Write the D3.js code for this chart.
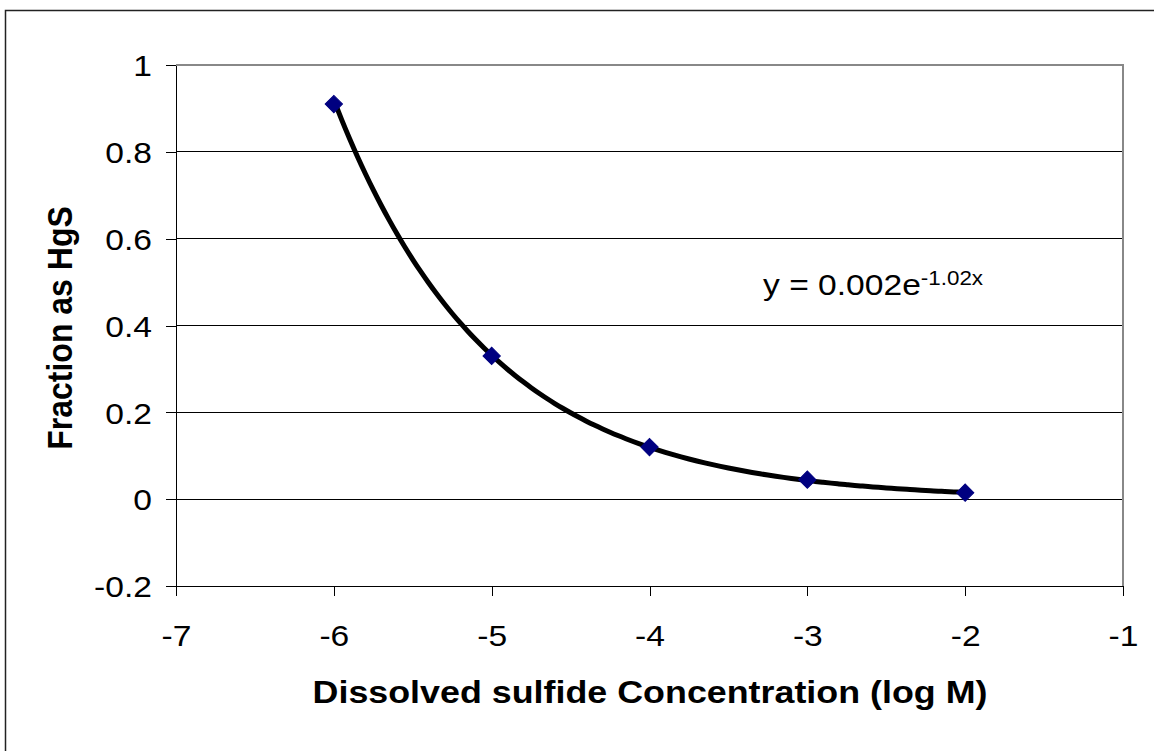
<!DOCTYPE html>
<html lang="en">
<head>
    <meta charset="UTF-8">
    <title>Fraction as HgS</title>
    <style>
        body { margin: 0; background: #fff; }
        text { font-family: "Liberation Sans", Arial, sans-serif; fill: #000; }
        .axis path, .axis line { stroke: #000; shape-rendering: crispEdges; }
    </style>
    <script src="https://d3js.org/d3.v7.min.js"></script>
</head>
<body>
    <svg width="1154" height="751"></svg>

    <script>
        // data
        const logConc = [-6, -5, -4, -3, -2];
        const fractionHgS = [0.91, 0.33, 0.12, 0.045, 0.015];
        const xTicks = [-7, -6, -5, -4, -3, -2, -1];
        const yTicks = [-0.2, 0, 0.2, 0.4, 0.6, 0.8, 1];
        const eqMain = "y = 0.002e";
        const eqSup = "-1.02x";
        const xTitle = "Dissolved sulfide Concentration (log M)";
        const yTitle = "Fraction as HgS";

        const svg = d3.select("svg");
        const stretch = "scale(1.12,1)";

        // plot box
        const plotLeft = 176, plotRight = 1123, plotTop = 65, plotBottom = 586;

        const x = d3.scaleLinear().domain([-7, -1]).range([plotLeft, plotRight]);
        const y = d3.scaleLinear().domain([-0.2, 1]).range([plotBottom, plotTop]);

        // outer chart border (only top and left show in the picture)
        svg.append("rect")
            .attr("x", 5.5).attr("y", 10.5)
            .attr("width", 1300).attr("height", 900)
            .attr("fill", "none")
            .attr("stroke", "#222")
            .attr("stroke-width", 1.5);

        // gridlines
        svg.append("g")
            .selectAll("line")
            .data(yTicks.filter(d => d > -0.2 && d < 1))
            .join("line")
            .attr("x1", plotLeft).attr("x2", plotRight)
            .attr("y1", d => y(d)).attr("y2", d => y(d))
            .attr("stroke", "#000")
            .attr("stroke-width", 1)
            .attr("shape-rendering", "crispEdges");

        // grey frame on top and right
        svg.append("path")
            .attr("d", `M${plotLeft},${y(1)}H${plotRight}V${y(-0.2)}`)
            .attr("fill", "none")
            .attr("stroke", "#888")
            .attr("stroke-width", 2);

        // axes (plain hyphen for negatives, like the original)
        const xAxis = svg.append("g")
            .attr("class", "axis")
            .attr("transform", `translate(0,${plotBottom})`)
            .call(d3.axisBottom(x).tickValues(xTicks).tickSize(10).tickSizeOuter(0).tickFormat(d => String(d)));
        xAxis.selectAll("text")
            .attr("y", null).attr("dy", null)
            .attr("transform", `translate(0,60) ${stretch}`)
            .attr("font-size", 30)
            .attr("font-family", "Liberation Sans, Arial, sans-serif");

        const yAxis = svg.append("g")
            .attr("class", "axis")
            .attr("transform", `translate(${plotLeft},0)`)
            .call(d3.axisLeft(y).tickValues(yTicks).tickSize(10).tickSizeOuter(0).tickFormat(d => String(+d.toFixed(1))));
        yAxis.selectAll("text")
            .attr("x", null).attr("dy", "0.36em")
            .attr("transform", `translate(-24,0) ${stretch}`)
            .attr("font-size", 30)
            .attr("font-family", "Liberation Sans, Arial, sans-serif");
        svg.selectAll(".axis .domain").attr("stroke-width", 1.5);

        // exponential trendline fitted to the points (least squares on ln y)
        const lnY = fractionHgS.map(Math.log);
        const mx = d3.mean(logConc), my = d3.mean(lnY);
        const slope = d3.sum(logConc, (v, i) => (v - mx) * (lnY[i] - my)) / d3.sum(logConc, v => (v - mx) ** 2);
        const coef = Math.exp(my - slope * mx);
        const trend = d3.range(d3.min(logConc), d3.max(logConc) + 0.001, 0.05)
            .map(v => [v, coef * Math.exp(slope * v)]);

        svg.append("path")
            .datum(trend)
            .attr("fill", "none")
            .attr("stroke", "#000")
            .attr("stroke-width", 5)
            .attr("stroke-linejoin", "round")
            .attr("d", d3.line().x(d => x(d[0])).y(d => y(d[1])).curve(d3.curveMonotoneX));

        // diamond markers
        svg.append("g")
            .selectAll("path")
            .data(logConc.map((v, i) => [v, fractionHgS[i]]))
            .join("path")
            .attr("transform", d => `translate(${x(d[0])},${y(d[1])}) rotate(45)`)
            .attr("d", d3.symbol(d3.symbolSquare, 150))
            .attr("fill", "#000080")
            .attr("stroke", "#000080")
            .attr("stroke-width", 1);

        // trendline equation
        const eq = svg.append("text")
            .attr("transform", `translate(763,295) ${stretch}`)
            .attr("font-size", 30);
        eq.append("tspan").text(eqMain);
        eq.append("tspan").attr("font-size", 20).attr("dy", -10).text(eqSup);

        // axis titles
        svg.append("text")
            .attr("transform", `translate(650,703) ${stretch}`)
            .attr("text-anchor", "middle")
            .attr("font-size", 32)
            .attr("font-weight", "bold")
            .text(xTitle);

        svg.append("text")
            .attr("transform", `translate(72,328) ${stretch} rotate(-90)`)
            .attr("text-anchor", "middle")
            .attr("font-size", 32)
            .attr("font-weight", "bold")
            .text(yTitle);
    </script>
</body>
</html>
